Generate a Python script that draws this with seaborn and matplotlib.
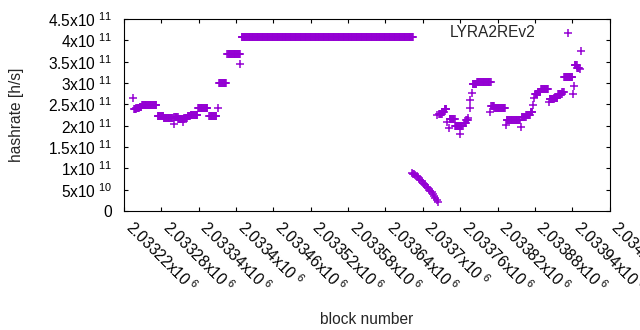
import numpy as np
import pandas as pd
import matplotlib
matplotlib.use("Agg")
import matplotlib.pyplot as plt
import seaborn as sns

# blocks are stored as offsets from this block
BLOCK0 = 2033220

# runs of (nearly) constant hashrate: first block, last block, rate [1e11 h/s]
run_first = [16, 20, 25, 29, 54, 64, 81, 87, 97, 102, 107, 119, 137, 153, 166, 189,
             506, 511, 515, 523, 532, 546, 550, 560, 567, 590, 595, 615, 639, 646,
             653, 660, 665, 670, 684, 691, 697, 704, 707, 724, 728]
run_last = [19, 24, 28, 52, 63, 78, 86, 96, 101, 106, 118, 134, 148, 164, 186, 464,
            510, 514, 518, 531, 544, 549, 552, 566, 589, 594, 612, 636, 645, 652,
            656, 664, 669, 681, 690, 696, 703, 706, 720, 727, 731]
run_rate = [2.38, 2.41, 2.44, 2.48, 2.23, 2.17, 2.21, 2.15, 2.19, 2.23, 2.26, 2.41, 2.23,
            2.99, 3.68, 4.07,
            2.27, 2.33, 2.38, 2.16, 1.99, 2.06, 2.14, 2.97, 3.02, 2.46, 2.42, 2.14,
            2.21, 2.26, 2.31, 2.74, 2.79, 2.85, 2.62, 2.66, 2.74, 2.78, 3.13, 3.43, 3.36]

# isolated points [1e11 h/s]
point_block = [15, 80, 94, 151, 187, 503, 519, 522, 540, 553, 555, 556, 559,
               588, 613, 638, 657, 659, 683, 722, 723, 733, 734]
point_rate = [2.65, 2.03, 2.09, 2.42, 3.44, 2.24, 2.09, 1.94, 1.80, 2.17, 2.41, 2.60, 2.76,
              2.33, 2.02, 1.98, 2.48, 2.64, 2.56, 2.74, 2.94, 3.32, 3.75]

# drop after the long flat period [1e10 h/s]
drop_block = [462, 464, 466, 468, 470, 472, 474, 476, 478, 480, 482,
              484, 486, 488, 490, 492, 494, 496, 498, 500, 502, 504]
drop_rate = [8.8, 8.7, 8.6, 8.4, 8.2, 7.9, 7.6, 7.3, 7.0, 6.6, 6.3,
             6.0, 5.7, 5.3, 5.0, 4.7, 4.4, 4.0, 3.6, 3.1, 2.6, 2.0]

x_ticks = [2033220, 2033280, 2033340, 2033400, 2033460, 2033520, 2033580,
           2033640, 2033700, 2033760, 2033820, 2033880, 2033940, 2034000]
x_labels = ["2.03322", "2.03328", "2.03334", "2.0334", "2.03346", "2.03352", "2.03358",
            "2.03364", "2.0337", "2.03376", "2.03382", "2.03388", "2.03394", "2.034"]
y_ticks = [0, 5e10, 1e11, 1.5e11, 2e11, 2.5e11, 3e11, 3.5e11, 4e11, 4.5e11]
y_labels = ["0", "5x10$^{\\ 10}$", "1x10$^{\\ 11}$", "1.5x10$^{\\ 11}$", "2x10$^{\\ 11}$",
            "2.5x10$^{\\ 11}$", "3x10$^{\\ 11}$", "3.5x10$^{\\ 11}$", "4x10$^{\\ 11}$",
            "4.5x10$^{\\ 11}$"]

# build the table
blocks, rates = [], []
for first, last, rate in zip(run_first, run_last, run_rate):
    for b in range(first, last + 1):
        blocks.append(b)
        rates.append(rate * 1e11)
for b, r in zip(point_block, point_rate):
    blocks.append(b)
    rates.append(r * 1e11)
for b, r in zip(drop_block, drop_rate):
    blocks.append(b)
    rates.append(r * 1e10)
df = pd.DataFrame({"block": np.array(blocks) + BLOCK0, "hashrate": rates})

sns.set_theme(style="ticks")
plt.rcParams["font.family"] = ["Liberation Sans", "DejaVu Sans"]
plt.rcParams["mathtext.default"] = "regular"
FS = 11.2

fig = plt.figure(figsize=(6.4, 3.3), dpi=100)
ax = fig.add_axes([124 / 640, 1 - 211 / 330, 485.6 / 640, 192 / 330])

sns.scatterplot(data=df, x="block", y="hashrate", marker="+", color="#9400d3",
                s=30, linewidth=1.1, label="LYRA2REv2", ax=ax)

ax.set_xlim(2033220, 2034000)
ax.set_ylim(0, 4.5e11)

ax.set_yticks(y_ticks, y_labels)
ax.set_xticks(x_ticks, [lab + "x10$^{\\ 6}$" for lab in x_labels],
              rotation=-45, ha="left", va="baseline", rotation_mode="anchor")

ax.tick_params(direction="in", length=3, width=0.8, top=True, right=True,
               labelsize=FS, colors="black")
ax.tick_params(axis="x", pad=13)
ax.tick_params(axis="y", pad=8.5)
for sp in ax.spines.values():
    sp.set_color("black")
    sp.set_linewidth(0.8)

ax.set_xlabel("block number", fontsize=FS)
ax.set_ylabel("hashrate [h/s]", fontsize=FS)
ax.xaxis.set_label_coords(0.5, (211 - 312) / 192)
ax.yaxis.set_label_coords((24 - 124) / 485.6, 0.5)

ax.legend(loc="center right", bbox_to_anchor=(583.5 / 640, 1 - 32.3 / 330),
          bbox_transform=fig.transFigure, markerfirst=False, frameon=False,
          borderpad=0, borderaxespad=0, handlelength=2, handletextpad=1.1,
          fontsize=FS)

fig.savefig("out.png", dpi=100)
